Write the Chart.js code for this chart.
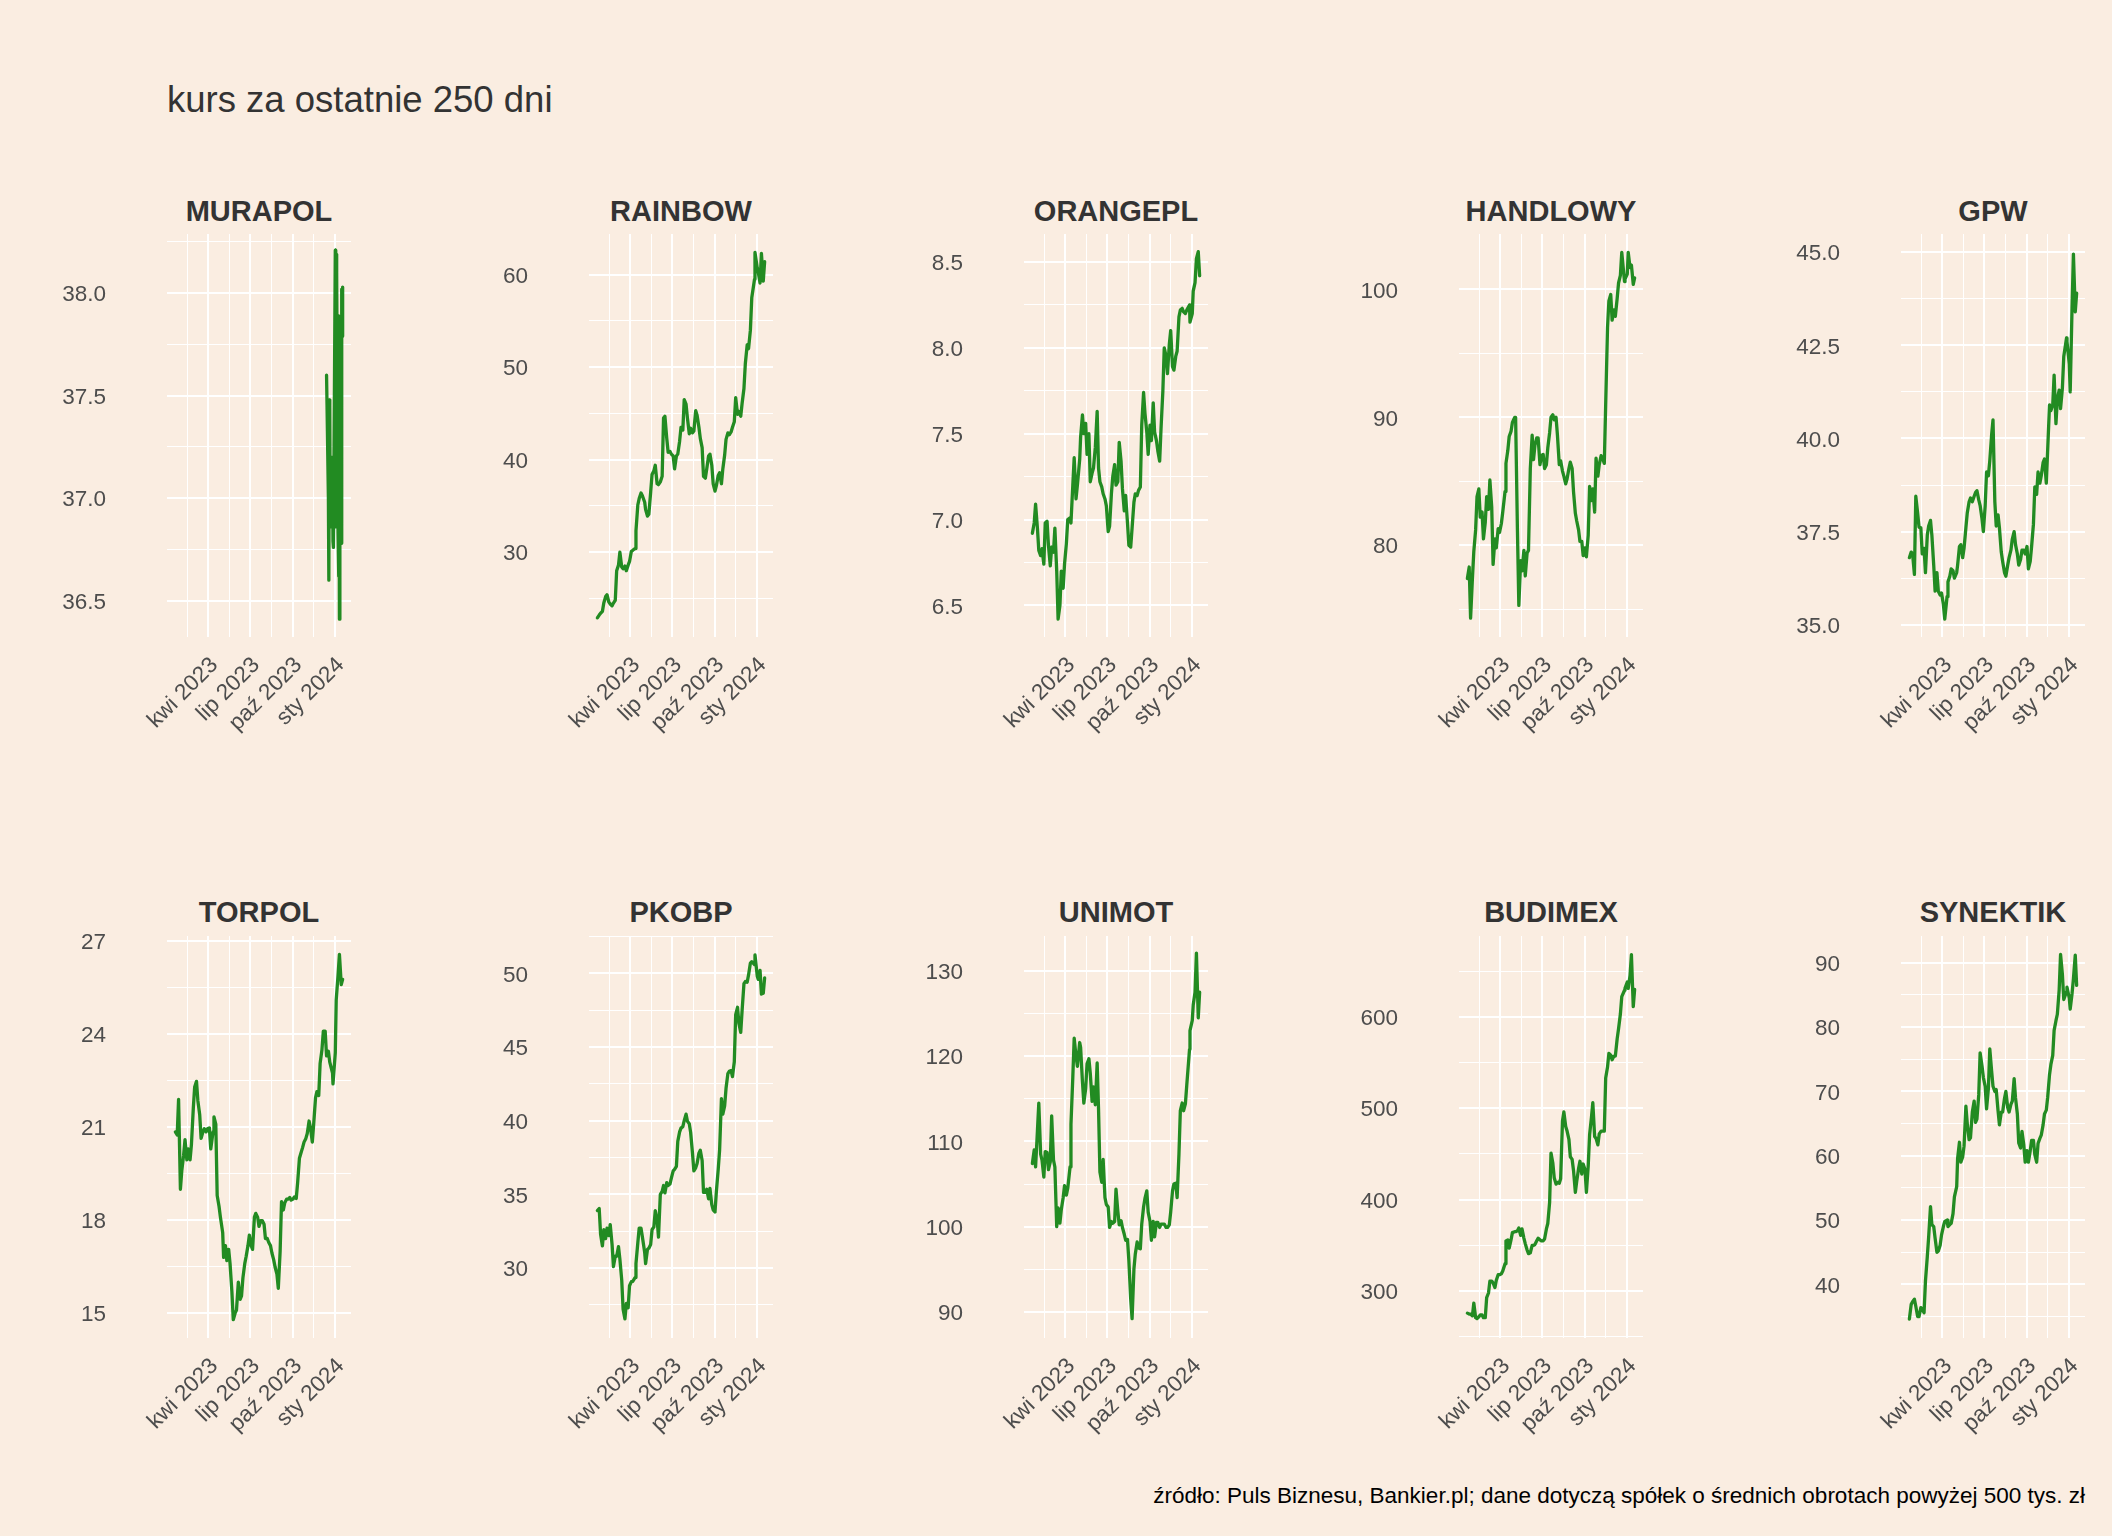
<!DOCTYPE html>
<html><head><meta charset="utf-8">
<script src="https://cdn.jsdelivr.net/npm/chart.js@4.4.1/dist/chart.umd.min.js"></script>
<style>
html,body{margin:0;padding:0;background:#FAEDE1;}
body{width:2112px;height:1536px;position:relative;overflow:hidden;font-family:"Liberation Sans",Arial,sans-serif;}
canvas{position:absolute;}
.txt{position:absolute;white-space:nowrap;line-height:1;}
#title{left:167px;top:82px;font-size:36.5px;color:#333333;}
#caption{right:27px;top:1485px;font-size:22.5px;color:#000000;}
.strip{font-size:29px;font-weight:bold;color:#333333;text-align:center;}
</style></head><body>
<div id="title" class="txt">kurs za ostatnie 250 dni</div>
<div id="caption" class="txt">źródło: Puls Biznesu, Bankier.pl; dane dotyczą spółek o średnich obrotach powyżej 500 tys. zł</div>
<script>
// ---------------- DATA ----------------
const TICKERS = ['MURAPOL','RAINBOW','ORANGEPL','HANDLOWY','GPW','TORPOL','PKOBP','UNIMOT','BUDIMEX','SYNEKTIK'];

const DATES = ['2023-01-19','2023-01-23','2023-01-26','2023-01-30','2023-02-02','2023-02-06','2023-02-09','2023-02-13','2023-02-16','2023-02-20',
'2023-02-23','2023-02-27','2023-03-02','2023-03-06','2023-03-09','2023-03-13','2023-03-16','2023-03-20','2023-03-23','2023-03-27',
'2023-03-30','2023-04-03','2023-04-06','2023-04-11','2023-04-13','2023-04-17','2023-04-20','2023-04-24','2023-04-27','2023-05-02',
'2023-05-04','2023-05-08','2023-05-11','2023-05-15','2023-05-18','2023-05-22','2023-05-25','2023-05-29','2023-06-01','2023-06-05',
'2023-06-09','2023-06-12','2023-06-15','2023-06-19','2023-06-22','2023-06-26','2023-06-29','2023-07-03','2023-07-06','2023-07-10',
'2023-07-13','2023-07-17','2023-07-20','2023-07-24','2023-07-27','2023-07-31','2023-08-03','2023-08-07','2023-08-10','2023-08-14',
'2023-08-17','2023-08-21','2023-08-24','2023-08-28','2023-08-31','2023-09-04','2023-09-07','2023-09-11','2023-09-14','2023-09-18',
'2023-09-21','2023-09-25','2023-09-28','2023-10-02','2023-10-05','2023-10-09','2023-10-12','2023-10-16','2023-10-19','2023-10-23',
'2023-10-26','2023-10-30','2023-11-02','2023-11-06','2023-11-09','2023-11-13','2023-11-16','2023-11-20','2023-11-23','2023-11-27',
'2023-11-30','2023-12-04','2023-12-07','2023-12-11','2023-12-14','2023-12-18','2023-12-21','2023-12-27','2023-12-28','2024-01-02',
'2024-01-04','2024-01-08','2024-01-11','2024-01-15','2024-01-18'];

const MURAPOL_DATES = ['2023-12-14','2023-12-15','2023-12-18','2023-12-19','2023-12-20','2023-12-21','2023-12-22','2023-12-27','2023-12-28','2023-12-29',
'2024-01-02','2024-01-03','2024-01-04','2024-01-05','2024-01-08','2024-01-09','2024-01-10','2024-01-11','2024-01-12','2024-01-15',
'2024-01-16','2024-01-17','2024-01-18'];
const MURAPOL = [37.60,37.46,37.00,36.60,37.48,37.45,36.86,37.20,36.79,36.76,38.21,36.86,38.19,38.10,36.83,36.62,37.89,36.41,37.78,36.78,38.02,37.79,38.03];

const RAINBOW = [22.9,23.2,23.4,23.6,24.5,25.2,25.4,24.6,24.4,24.2,
24.5,24.8,28.0,28.6,30.0,28.4,28.2,28.5,28.0,28.6,
29.0,30.1,30.2,30.4,32.3,35.1,35.8,36.4,36.1,35.4,
34.6,33.9,34.1,36.5,38.4,38.8,39.4,37.4,37.3,37.6,
38.2,44.5,44.7,42.3,40.8,40.9,40.6,40.4,39.0,40.4,
40.6,42.0,43.5,43.2,46.5,46.0,44.5,42.8,43.4,42.9,
43.1,45.3,44.8,43.5,42.3,41.3,38.2,38.0,39.0,40.4,
40.6,39.4,37.4,36.6,37.2,38.3,38.6,37.4,39.0,40.5,
42.2,42.9,42.7,43.0,43.5,44.1,46.7,44.9,45.2,44.7,
46.1,47.7,50.4,52.4,52.0,54.0,57.5,59.5,62.4,60.7,
60.3,59.1,62.3,59.3,61.4];

const ORANGEPL = [6.92,6.98,7.09,6.95,6.82,6.79,6.83,6.74,6.98,6.99,
6.85,6.73,6.84,6.81,6.95,6.70,6.42,6.50,6.70,6.60,
6.74,6.86,7.00,7.01,6.98,7.20,7.36,7.12,7.20,7.35,
7.48,7.61,7.50,7.56,7.38,7.50,7.22,7.27,7.30,7.42,
7.63,7.30,7.22,7.19,7.15,7.12,7.08,6.93,6.96,7.15,
7.25,7.32,7.20,7.22,7.45,7.34,7.18,7.05,7.14,6.98,
6.85,6.84,6.95,7.10,7.15,7.14,7.17,7.19,7.55,7.74,
7.62,7.51,7.38,7.55,7.46,7.68,7.51,7.46,7.40,7.34,
7.53,7.75,8.00,7.95,7.85,8.02,8.10,7.89,7.87,7.95,
7.98,8.18,8.22,8.23,8.21,8.20,8.22,8.25,8.15,8.20,
8.33,8.38,8.52,8.56,8.42];

const HANDLOWY = [77.4,78.3,74.3,77.4,79.5,81.2,83.8,84.4,82.2,82.6,
80.5,81.8,83.8,82.8,85.1,83.0,78.5,80.5,79.8,81.3,
81.0,81.7,82.6,84.2,86.4,87.4,88.5,88.9,89.6,90.0,
90.0,81.1,75.3,78.8,78.0,79.6,77.6,79.4,79.6,86.0,
88.6,86.7,87.8,88.4,88.4,86.3,87.0,87.1,86.0,86.3,
87.6,88.8,90.0,90.2,89.8,90.0,88.6,86.3,86.6,85.8,
85.4,84.8,85.2,86.0,86.5,86.0,84.2,82.5,81.9,81.2,
80.3,80.3,79.2,79.8,79.1,80.8,84.6,83.5,84.4,82.6,
86.8,85.4,86.3,87.0,86.8,86.4,91.0,97.0,99.1,99.6,
97.6,98.4,97.9,99.3,100.5,101.1,102.9,100.6,100.8,101.2,
102.9,101.7,101.9,100.4,100.9];

const GPW = [36.8,36.95,36.9,36.35,38.45,38.0,37.62,37.6,36.9,37.05,
36.4,37.4,37.65,37.8,37.4,36.6,35.9,36.4,35.9,35.8,
35.85,35.55,35.15,35.75,36.15,36.3,36.5,36.45,36.25,36.4,
36.6,37.1,37.15,36.8,37.05,37.6,38.0,38.3,38.4,38.3,
38.45,38.55,38.6,38.35,38.2,37.85,37.5,38.2,39.1,39.0,
39.4,40.1,40.5,38.3,37.65,37.95,37.6,36.95,36.7,36.4,
36.3,36.6,36.8,37.0,37.3,37.5,37.15,36.9,36.6,36.75,
37.0,37.0,36.9,37.1,36.5,36.7,37.1,37.7,38.7,38.5,
39.1,38.8,39.0,39.35,39.45,38.8,39.7,40.9,40.75,40.9,
41.7,40.4,41.05,41.3,40.8,41.35,42.2,42.7,42.6,42.0,
41.25,43.5,44.95,43.4,43.9];

const TORPOL = [20.85,20.75,21.9,19.0,19.6,20.1,20.6,19.95,20.3,19.95,
20.45,21.6,22.3,22.48,21.85,21.4,20.64,20.85,20.95,20.85,
20.95,20.98,20.3,20.85,21.33,21.1,18.8,18.45,18.1,17.6,
16.8,17.18,16.7,17.06,16.6,15.7,14.79,15.0,15.1,16.0,
15.45,15.56,16.14,16.6,16.83,17.18,17.52,17.18,17.06,18.1,
18.22,18.1,17.8,17.99,17.99,17.87,17.41,17.41,17.29,17.18,
16.95,16.72,16.49,16.26,15.8,17.0,18.6,18.33,18.56,18.68,
18.68,18.73,18.65,18.68,18.75,18.7,19.2,20.0,20.15,20.35,
20.52,20.64,20.8,21.2,20.98,20.52,21.1,21.95,22.15,22.02,
23.06,23.5,24.1,24.1,23.3,23.45,23.1,22.75,22.4,23.4,
25.1,25.9,26.58,25.6,25.77];

const PKOBP = [33.9,34.04,32.3,31.5,32.6,32.0,32.7,32.2,32.95,31.6,
30.1,30.8,30.8,31.45,30.6,29.2,27.2,26.55,27.6,27.3,
28.8,29.08,29.1,29.35,30.3,31.7,32.71,32.7,32.1,31.05,
30.3,31.26,31.35,31.6,32.6,32.8,33.9,33.3,32.1,35.0,
35.2,35.6,35.1,35.8,35.6,35.7,36.1,36.6,36.7,36.9,
38.6,39.24,39.5,39.6,40.0,40.45,39.96,39.8,39.2,37.8,
36.6,36.8,37.1,37.8,38.0,37.3,35.13,35.13,35.35,34.7,
35.4,34.3,33.95,33.8,35.2,36.7,38.0,41.5,40.45,41.0,
42.2,43.2,43.35,43.4,43.0,44.0,47.2,47.7,46.6,46.0,
47.5,49.3,49.45,49.4,49.9,50.7,50.8,50.6,51.25,49.8,
49.6,50.2,48.6,48.65,49.7];

const UNIMOT = [107.4,109.0,107.0,111.2,114.5,108.5,107.8,105.8,108.8,108.7,
106.7,107.6,113.0,107.8,107.0,100.0,102.2,100.4,102.0,103.4,
104.8,103.7,104.5,107.0,112.0,117.5,122.1,120.0,118.8,121.6,
121.0,117.0,114.5,116.2,119.1,119.7,118.0,114.7,116.4,114.3,
119.2,113.8,106.4,105.2,107.9,103.4,102.6,102.3,99.9,100.6,
100.4,100.6,104.4,101.8,100.2,100.7,99.9,99.1,98.4,98.5,
96.0,91.5,89.2,95.0,96.8,98.2,97.5,97.4,100.3,102.3,
103.3,104.2,101.7,100.6,98.4,100.6,98.8,100.5,100.5,99.9,
100.3,100.3,100.3,99.9,99.9,100.2,101.7,104.2,105.0,105.1,
103.4,108.5,113.6,114.5,113.6,114.4,116.6,120.8,123.0,124.2,
126.0,127.5,132.1,124.5,127.5];

const BUDIMEX = [276,275,275,273,287,271,270,272,274,274,
271,271,293,298,311,311,309,304,312,318,
318,319,322,330,355,356,347,356,364,365,
365,366,369,361,368,358,352,345,341,342,
350,350,351,355,358,356,355,355,357,368,
374,397,451,440,424,417,419,418,423,486,
496,480,475,466,447,444,432,408,420,434,
442,428,439,433,408,437,471,490,506,469,
467,460,472,475,475,475,533,545,560,558,
553,557,557,576,587,603,622,629,631,638,
631,645,668,611,630];

const SYNEKTIK = [34.6,36.9,37.3,37.7,36.6,35.0,35.0,36.4,36.1,35.6,
40.5,44.3,47.4,52.1,49.3,49.0,47.2,45.0,45.2,46.1,
47.7,49.0,49.8,50.0,49.0,49.3,49.5,51.0,53.6,55.2,
59.6,62.1,59.0,59.8,61.5,67.7,65.0,62.5,62.8,66.8,
68.5,65.2,65.7,69.5,76.0,74.0,72.2,70.8,67.3,70.5,
76.6,73.2,70.8,70.0,70.3,67.0,64.8,66.8,66.8,68.9,
70.0,67.5,66.8,68.0,68.5,72.0,69.0,66.5,62.0,61.2,
63.8,61.7,59.0,60.8,59.0,60.8,62.4,62.4,60.2,59.0,
61.9,62.7,63.2,64.8,66.5,67.1,69.1,72.6,74.2,75.6,
79.5,81.0,82.0,85.8,91.3,88.2,84.3,85.5,86.2,84.5,
82.8,85.2,87.5,91.2,86.5];

// x axis ticks (dates) and labels
const X_MAJOR = ['2023-04-01','2023-07-01','2023-10-01','2024-01-01'];
const X_LABELS = ['kwi 2023','lip 2023','paź 2023','sty 2024'];
const X_MINOR = ['2023-02-15','2023-05-16','2023-08-16','2023-11-16'];

// y axis ranges and ticks, in TICKERS order
const Y_MIN = [36.323, 20.83, 6.316, 72.83, 34.67, 14.20, 25.25, 86.93, 248.8, 31.67];
const Y_MAX = [38.289, 64.40, 8.663, 104.33, 45.49, 27.17, 52.54, 134.1, 688.3, 94.17];
const Y_MAJOR = [
  [36.5,37.0,37.5,38.0],
  [30,40,50,60],
  [6.5,7.0,7.5,8.0,8.5],
  [80,90,100],
  [35.0,37.5,40.0,42.5,45.0],
  [15,18,21,24,27],
  [30,35,40,45,50],
  [90,100,110,120,130],
  [300,400,500,600],
  [40,50,60,70,80,90]
];
const Y_LABELS = [
  ['36.5','37.0','37.5','38.0'],
  ['30','40','50','60'],
  ['6.5','7.0','7.5','8.0','8.5'],
  ['80','90','100'],
  ['35.0','37.5','40.0','42.5','45.0'],
  ['15','18','21','24','27'],
  ['30','35','40','45','50'],
  ['90','100','110','120','130'],
  ['300','400','500','600'],
  ['40','50','60','70','80','90']
];

// ---------------- LAYOUT / STYLE ----------------
const FONT = '"Liberation Sans", Arial, sans-serif';
const LINE_COLOR = '#228B22';
const TICK_COLOR = '#4D4D4D';
const TICK_SIZE = 22.5;
const PANEL_LEFT = [167, 589, 1024, 1459, 1901];
const PANEL_W = 184;
const ROW_TOP = [234, 936];
const ROW_H = [403, 402];
const STRIP_TOP = [197, 898];
const AX_W = 140, PAD_T = 20, PAD_R = 40, AX_H = 110;

const day = s => Date.UTC(+s.slice(0,4), +s.slice(5,7)-1, +s.slice(8,10)) / 86400000;
const firstDay = day(DATES[0]), lastDay = day(DATES[DATES.length-1]);
const span = lastDay - firstDay;
const X_MIN = firstDay - 0.05*span, X_MAX = lastDay + 0.05*span;

const xLabelMap = {};
X_MAJOR.forEach((d,i)=>{ xLabelMap[day(d)] = X_LABELS[i]; });
const xTicks = X_MAJOR.map(d=>({value: day(d), major: true}))
  .concat(X_MINOR.map(d=>({value: day(d), major: false})))
  .sort((a,b)=>a.value-b.value);

const SERIES = {MURAPOL, RAINBOW, ORANGEPL, HANDLOWY, GPW, TORPOL, PKOBP, UNIMOT, BUDIMEX, SYNEKTIK};

Chart.defaults.font.family = FONT;

function makePanel(idx) {
  const name = TICKERS[idx];
  const col = idx % 5, row = Math.floor(idx / 5);
  const pl = PANEL_LEFT[col], pt = ROW_TOP[row], ph = ROW_H[row];
  const W = AX_W + PANEL_W + PAD_R, H = PAD_T + ph + AX_H;

  const strip = document.createElement('div');
  strip.className = 'txt strip';
  strip.style.left = pl + 'px';
  strip.style.width = PANEL_W + 'px';
  strip.style.top = STRIP_TOP[row] + 'px';
  strip.textContent = name;
  document.body.appendChild(strip);

  const cv = document.createElement('canvas');
  cv.width = W; cv.height = H;
  cv.style.left = (pl - AX_W) + 'px';
  cv.style.top = (pt - PAD_T) + 'px';
  cv.style.width = W + 'px'; cv.style.height = H + 'px';
  document.body.appendChild(cv);

  const xs = name === 'MURAPOL' ? MURAPOL_DATES : DATES;
  const ys = SERIES[name];
  const pts = xs.map((d,i)=>({x: day(d), y: ys[i]}));

  const maj = Y_MAJOR[idx];
  const step = maj[1] - maj[0];
  const yLabelMap = {};
  maj.forEach((v,i)=>{ yLabelMap[v.toFixed(3)] = Y_LABELS[idx][i]; });
  const yTicks = [];
  const lo = Y_MIN[idx], hi = Y_MAX[idx];
  if (maj[0] - step/2 >= lo) yTicks.push({value: maj[0]-step/2, major:false});
  maj.forEach((v,i)=>{
    yTicks.push({value: v, major: true});
    const m = v + step/2;
    if (m <= hi) yTicks.push({value: m, major:false});
  });

  new Chart(cv, {
    type: 'line',
    data: { datasets: [{
      data: pts, borderColor: LINE_COLOR, borderWidth: 3.3, pointRadius: 0,
      tension: 0, fill: false, borderJoinStyle: 'round', borderCapStyle: 'round'
    }]},
    options: {
      responsive: false, animation: false, devicePixelRatio: 1,
      events: [],
      layout: { padding: { top: PAD_T, right: PAD_R, bottom: 0, left: 0 } },
      plugins: { legend: {display:false}, tooltip: {enabled:false}, title: {display:false} },
      scales: {
        x: {
          type: 'linear', position: 'bottom', min: X_MIN, max: X_MAX, bounds: 'data',
          afterBuildTicks: s => { s.ticks = xTicks.map(t=>({value:t.value, major:t.major})); },
          afterFit: s => { s.height = AX_H; s.paddingLeft = 0; s.paddingRight = 0; s.paddingTop = 0; s.paddingBottom = 0; },
          grid: { color: '#FFFFFF', lineWidth: c => (c.tick && c.tick.major) ? 2 : 1, drawTicks: false },
          border: { display: false },
          ticks: {
            autoSkip: false, maxRotation: 45, minRotation: 45, padding: 15, labelOffset: 6,
            color: TICK_COLOR, font: { family: FONT, size: TICK_SIZE },
            callback: v => xLabelMap[v] || ''
          }
        },
        y: {
          type: 'linear', position: 'left', min: lo, max: hi, bounds: 'data',
          afterBuildTicks: s => { s.ticks = yTicks.map(t=>({value:t.value, major:t.major})); },
          afterFit: s => { s.width = AX_W; s.paddingLeft = 0; s.paddingRight = 0; s.paddingTop = 0; s.paddingBottom = 0; },
          grid: { color: '#FFFFFF', lineWidth: c => (c.tick && c.tick.major) ? 2 : 1, drawTicks: false },
          border: { display: false },
          ticks: {
            autoSkip: false, padding: 61, labelOffset: 2,
            color: TICK_COLOR, font: { family: FONT, size: TICK_SIZE },
            callback: v => yLabelMap[Number(v).toFixed(3)] || ''
          }
        }
      }
    }
  });
}

for (let i = 0; i < TICKERS.length; i++) makePanel(i);
</script>
</body></html>
